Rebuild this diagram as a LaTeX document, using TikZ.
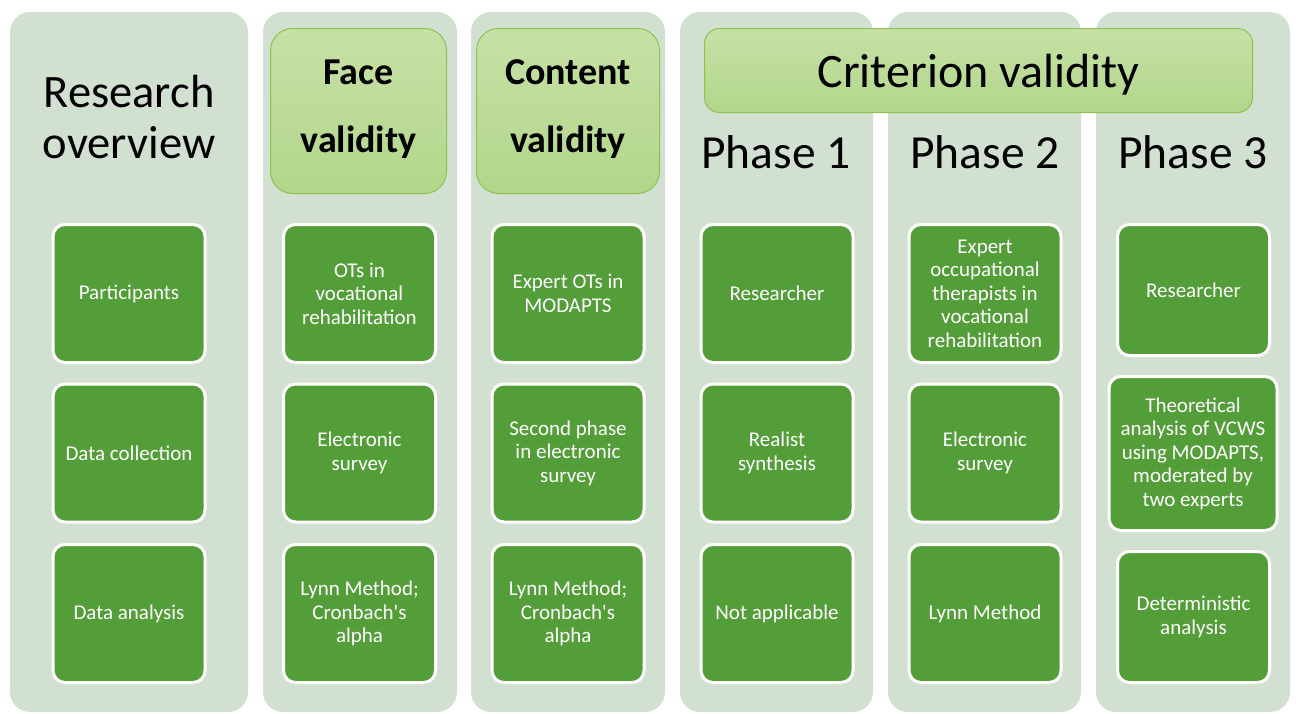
\documentclass[tikz,border=0pt]{standalone}
\usepackage{fontspec}
\setmainfont{Carlito}[Ligatures=TeXOff]
\definecolor{lanebg}{HTML}{D2E0D1}
\definecolor{boxgreen}{HTML}{549E39}
\definecolor{hdrtop}{HTML}{C6E1A6}
\definecolor{hdrbot}{HTML}{B2D68A}
\definecolor{hdrline}{HTML}{8DC24F}
\begin{document}
\begin{tikzpicture}[x=1pt,y=-1pt,
 lane/.style={fill=lanebg, draw=none, rounded corners=20pt},
 item/.style={rectangle, fill=boxgreen, draw=white, line width=3pt, rounded corners=12pt,
   minimum width=152pt, minimum height=138pt, align=center, text=white,
   font=\fontsize{21}{23.5}\selectfont, inner sep=2pt},
 hdr/.style={rectangle, draw=hdrline, line width=1pt, top color=hdrtop, bottom color=hdrbot,
   rounded corners=22pt, align=center, inner sep=0pt},
 bigtitle/.style={font=\fontsize{46.5}{51}\selectfont, align=center, inner sep=0pt},
 boldhdr/.style={font=\fontsize{38}{68}\selectfont\bfseries, text depth=9pt},
 phase/.style={font=\fontsize{47.5}{52}\selectfont, inner sep=0pt}
]
\useasboundingbox (0,0) rectangle (1296,713);
% lanes
\fill[lane] (10,12) rectangle (248,712);
\fill[lane] (263,12) rectangle (457,712);
\fill[lane] (471,12) rectangle (665,712);
\fill[lane] (680,12) rectangle (873,712);
\fill[lane] (888,12) rectangle (1081,712);
\fill[lane] (1096,12) rectangle (1290,712);

% headers
\node[bigtitle] (ro) at (129,117) {Research\\overview};
\node[hdr, boldhdr, minimum width=176pt, minimum height=165pt] (face) at (358.5,111) {Face\\validity};
\node[hdr, boldhdr, minimum width=183pt, minimum height=165pt] (content) at (568,111) {Content\\validity};
\node[hdr, rounded corners=15pt, minimum width=548pt, minimum height=84pt, text depth=0pt,
  font=\fontsize{48}{52}\selectfont] (crit) at (978.5,70.5) {Criterion validity};
\node[phase] (p1) at (776,152) {Phase 1};
\node[phase] (p2) at (985,152) {Phase 2};
\node[phase] (p3) at (1193,152) {Phase 3};

% lane 1
\node[item] (a1) at (129,293.5) {Participants};
\node[item] (a2) at (129,453) {Data collection};
\node[item] (a3) at (129,613.5) {Data analysis};
% lane 2
\node[item] (b1) at (359.5,293.5) {OTs in\\vocational\\rehabilitation};
\node[item] (b2) at (359.5,453) {Electronic\\survey};
\node[item] (b3) at (359.5,613.5) {Lynn Method;\\Cronbach's\\alpha};
% lane 3
\node[item] (c1) at (568,293.5) {Expert OTs in\\MODAPTS};
\node[item] (c2) at (568,453) {Second phase\\in electronic\\survey};
\node[item] (c3) at (568,613.5) {Lynn Method;\\Cronbach's\\alpha};
% lane 4
\node[item] (d1) at (777,293.5) {Researcher};
\node[item] (d2) at (777,453) {Realist\\synthesis};
\node[item] (d3) at (777,613.5) {Not applicable};
% lane 5
\node[item] (e1) at (985,293.5) {Expert\\occupational\\therapists in\\vocational\\rehabilitation};
\node[item] (e2) at (985,453) {Electronic\\survey};
\node[item] (e3) at (985,613.5) {Lynn Method};
% lane 6
\node[item, minimum height=131pt] (f1) at (1193.5,290) {Researcher};
\node[item, minimum width=168pt, minimum height=154pt] (f2) at (1193,453.5) {Theoretical\\analysis of VCWS\\using MODAPTS,\\moderated by\\two experts};
\node[item, minimum height=131pt] (f3) at (1193.5,617) {Deterministic\\analysis};
\end{tikzpicture}
\end{document}
